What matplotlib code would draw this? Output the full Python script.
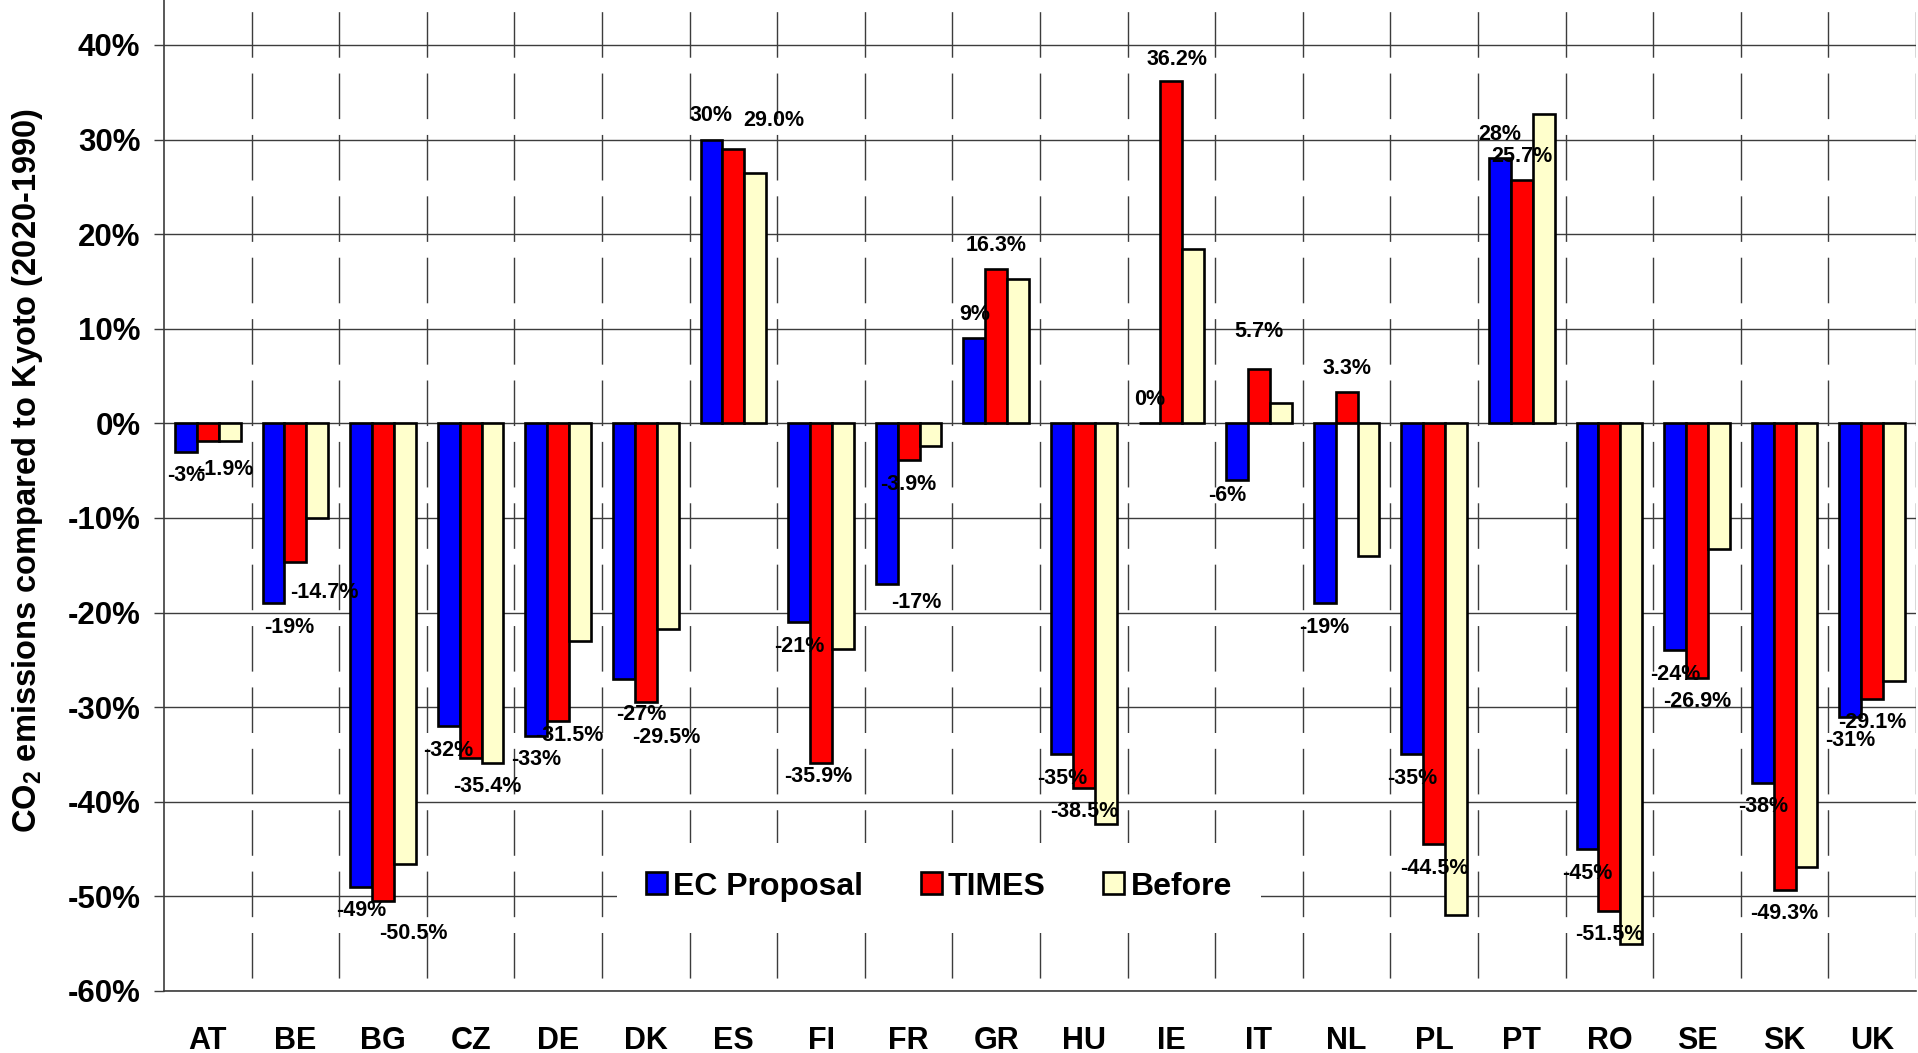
import matplotlib
matplotlib.use("Agg")
import matplotlib.pyplot as plt
import numpy as np
from matplotlib.ticker import FuncFormatter

# Data: CO2 emissions 2020 vs 1990, percent
countries = ["AT", "BE", "BG", "CZ", "DE", "DK", "ES", "FI", "FR", "GR",
             "HU", "IE", "IT", "NL", "PL", "PT", "RO", "SE", "SK", "UK"]
ec_proposal = [-3, -19, -49, -32, -33, -27, 30, -21, -17, 9,
               -35, 0, -6, -19, -35, 28, -45, -24, -38, -31]
times = [-1.9, -14.7, -50.5, -35.4, -31.5, -29.5, 29.0, -35.9, -3.9, 16.3,
         -38.5, 36.2, 5.7, 3.3, -44.5, 25.7, -51.5, -26.9, -49.3, -29.1]
before = [-1.9, -10.0, -46.6, -35.9, -23.0, -21.7, 26.5, -23.8, -2.4, 15.3,
          -42.4, 18.4, 2.2, -14.0, -52.0, 32.7, -55.0, -13.3, -46.9, -27.2]

series_names = ["EC Proposal", "TIMES", "Before"]
series_colors = ["#0000FF", "#FF0000", "#FFFFCC"]

# label nudges in pixels (dx right, dy down) relative to default spot
ec_nudge = {"BE": (16, 0), "DK": (17, 12), "FR": (30, -6), "IT": (-10, -9)}
times_nudge = {"AT": (18, 4), "BE": (29, 6), "BG": (30, 8), "CZ": (17, 4),
               "DE": (11, -10), "DK": (21, 11), "ES": (40, -5), "FI": (-3, -10),
               "IE": (6, 3), "IT": (0, -14)}

plt.rcParams["font.family"] = ["Liberation Sans", "DejaVu Sans"]
plt.rcParams["font.weight"] = "bold"
plt.rcParams["mathtext.fontset"] = "custom"
plt.rcParams["mathtext.rm"] = "Liberation Sans:bold"
plt.rcParams["mathtext.bf"] = "Liberation Sans:bold"
plt.rcParams["lines.scale_dashes"] = False

W, H = 1918, 1053
fig = plt.figure(figsize=(W / 100, H / 100), dpi=100)
ax = fig.add_axes([164 / W, (H - 991) / H, 1752 / W, 991 / H])

ytop, ybot = 44.75, -60
x = np.arange(len(countries))
bw = 0.25

for i, (vals, col) in enumerate(zip([ec_proposal, times, before], series_colors)):
    ax.bar(x + (i - 1) * bw, vals, width=bw, color=col, edgecolor="black",
           linewidth=1.9, label=series_names[i], zorder=2)

ax.set_xlim(-0.5, len(countries) - 0.5)
ax.set_ylim(ybot, ytop)

# horizontal grid
for yv in range(-60, 50, 10):
    ax.axhline(yv, color="#3c3c3c", lw=1.0, zorder=0.5)

# dashed category separators, pattern starting from the top
for xb in np.arange(0.5, len(countries), 1.0):
    ax.plot([xb, xb], [ytop, ybot], color="#3c3c3c", lw=1.0, zorder=0.5,
            linestyle=(35.8, (32.8, 11.4)))

px = 0.72  # points per pixel
base = 24 * px


def put_labels(vals, shift, fmt, nudge):
    for xi, v, c in zip(x, vals, countries):
        dx, dy = nudge.get(c, (0, 0))
        off = base if v >= 0 else -base
        ax.annotate(fmt.format(v), xy=(xi + shift, v),
                    xytext=(dx * px, off - dy * px), textcoords="offset points",
                    ha="center", va="center", fontsize=15.5, fontweight="bold",
                    zorder=4)


put_labels(ec_proposal, -bw, "{:.0f}%", ec_nudge)
put_labels(times, 0, "{:.1f}%", times_nudge)

ax.set_yticks(range(-60, 50, 10))
ax.yaxis.set_major_formatter(FuncFormatter(lambda v, p: f"{v:.0f}%"))
ax.set_xticks(x)
ax.set_xticklabels(countries)
ax.tick_params(axis="y", direction="out", length=7, width=1.0, color="#3c3c3c",
               labelsize=22.5, pad=10)
ax.tick_params(axis="x", length=0, labelsize=22, pad=25)
for lab in ax.get_xticklabels() + ax.get_yticklabels():
    lab.set_fontweight("bold")

for s in ["top", "right"]:
    ax.spines[s].set_visible(False)
for s in ["left", "bottom"]:
    ax.spines[s].set_color("#3c3c3c")
    ax.spines[s].set_linewidth(1.2)

ax.set_ylabel(r"CO$_\mathbf{2}$ emissions compared to Kyoto (2020-1990)",
              fontsize=23.5, fontweight="bold", va="center")
ax.yaxis.set_label_coords(-0.078, 0.525)

leg = ax.legend(loc="center", bbox_to_anchor=(0.4423, 0.1054), ncol=3,
                frameon=True, fancybox=False, framealpha=1, facecolor="white",
                edgecolor="none", fontsize=23, handlelength=0.66,
                handleheight=0.69, handletextpad=0.2, columnspacing=1.8,
                borderpad=0.9)
leg.set_zorder(5)
for t in leg.get_texts():
    t.set_fontweight("bold")

fig.savefig("out.png", dpi=100)
